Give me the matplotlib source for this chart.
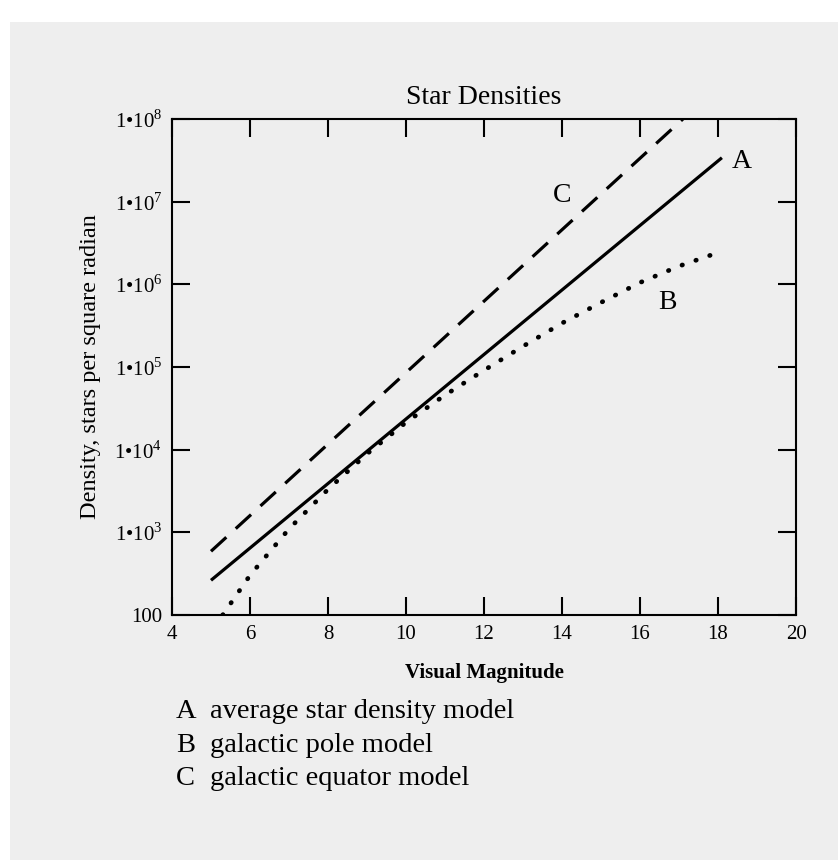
import math
import matplotlib
matplotlib.use("Agg")
import matplotlib.pyplot as plt
from matplotlib.patches import Rectangle
from matplotlib.ticker import FixedLocator, FuncFormatter

plt.rcParams['font.family'] = ['Liberation Serif', 'DejaVu Serif']
plt.rcParams['mathtext.fontset'] = 'custom'
plt.rcParams['mathtext.rm'] = 'Liberation Serif'

# star density models: visual magnitude vs stars per square radian
mag_a = [5.0, 18.1]
dens_a = [263, 3.4e7]

mag_b = [5.3, 6, 7, 8, 9, 10, 11, 12, 13, 14, 15, 16, 17, 18.1]
dens_b = [100, 302, 1100, 3310, 8910, 2.14e4, 4.57e4, 9.12e4,
          1.78e5, 3.39e5, 6.03e5, 1.05e6, 1.66e6, 2.51e6]

mag_c = [5.0, 17.1]
dens_c = [590, 1.0e8]

x_ticks = [4, 6, 8, 10, 12, 14, 16, 18, 20]
y_ticks = [1e2, 1e3, 1e4, 1e5, 1e6, 1e7, 1e8]

legend_rows = [("A", "average star density model"),
               ("B", "galactic pole model"),
               ("C", "galactic equator model")]

W, H = 838, 860
fig = plt.figure(figsize=(W / 100, H / 100), dpi=100, facecolor='white')
fig.patches.append(Rectangle((10 / W, 0), 1, 1 - 22 / H, transform=fig.transFigure,
                             facecolor='#eeeeee', edgecolor='none', zorder=-10))

ax = fig.add_axes([172 / W, 1 - 615 / H, 624 / W, 496 / H])
ax.patch.set_alpha(0)

ax.plot(mag_a, dens_a, color='black', lw=2.3, solid_capstyle='butt')
ax.plot(mag_b, dens_b, color='black', lw=3.4, ls=(0, (0.1, 3.0)),
        dash_capstyle='round')
ax.plot(mag_c, dens_c, color='black', lw=2.3, ls=(0, (6.5, 4.0)),
        dash_capstyle='butt')

ax.text(18.6, 10 ** 7.48, "A", fontsize=20, ha='center', va='center')
ax.text(16.7, 10 ** 5.78, "B", fontsize=20, ha='center', va='center')
ax.text(14.0, 10 ** 7.08, "C", fontsize=20, ha='center', va='center')

ax.set_yscale('log')
ax.set_xlim(4, 20)
ax.set_ylim(1e2, 1e8)
ax.xaxis.set_major_locator(FixedLocator(x_ticks))
ax.yaxis.set_major_locator(FixedLocator(y_ticks))
ax.minorticks_off()


def dens_label(v, pos):
    e = int(round(math.log10(v)))
    if e == 2:
        return "100"
    return "1\u202210$^{%d}$" % e


ax.yaxis.set_major_formatter(FuncFormatter(dens_label))
ax.tick_params(direction='in', length=13, width=1.5, top=True, right=True,
               labelsize=15, pad=7)
for s in ax.spines.values():
    s.set_linewidth(1.5)

ax.set_title("Star Densities", fontsize=20, pad=11)
ax.set_xlabel("Visual Magnitude", fontsize=15, fontweight='bold', labelpad=14)
ax.set_ylabel("Density, stars per square radian", fontsize=17.5, labelpad=10)

for i, (key, desc) in enumerate(legend_rows):
    y = 1 - (718 + 33.5 * i) / H
    fig.text(176 / W, y, key, fontsize=20.5, va='baseline')
    fig.text(210 / W, y, desc, fontsize=20.5, va='baseline')

fig.savefig("out.png", dpi=100, facecolor=fig.get_facecolor())
